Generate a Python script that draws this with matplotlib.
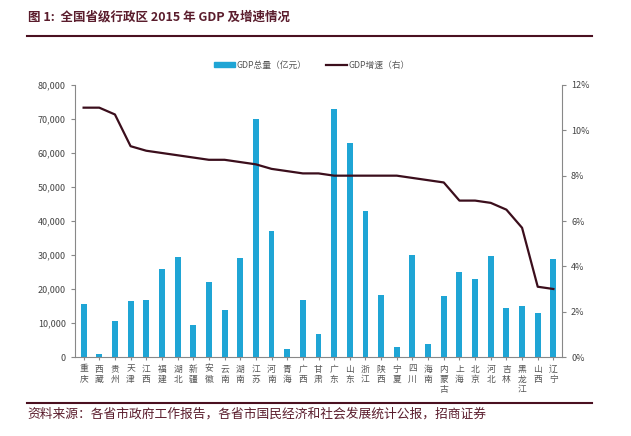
import matplotlib
matplotlib.use("Agg")
import matplotlib.pyplot as plt
from matplotlib.ticker import FuncFormatter, MultipleLocator
from matplotlib.lines import Line2D

plt.rcParams['font.family'] = ['Noto Sans CJK SC', 'DejaVu Sans']

provinces = ["重庆", "西藏", "贵州", "天津", "江西", "福建", "湖北", "新疆", "安徽", "云南",
             "湖南", "江苏", "河南", "青海", "广西", "甘肃", "广东", "山东", "浙江", "陕西",
             "宁夏", "四川", "海南", "内蒙古", "上海", "北京", "河北", "吉林", "黑龙江", "山西", "辽宁"]
gdp = [15717, 1026, 10503, 16538, 16724, 25980, 29550, 9325, 22006, 13718,
       29047, 70116, 37010, 2417, 16803, 6790, 72813, 63002, 42886, 18172,
       2912, 30103, 3703, 18033, 24965, 22969, 29806, 14274, 15084, 12803, 28743]
growth = [11.0, 11.0, 10.7, 9.3, 9.1, 9.0, 8.9, 8.8, 8.7, 8.7,
          8.6, 8.5, 8.3, 8.2, 8.1, 8.1, 8.0, 8.0, 8.0, 8.0,
          8.0, 7.9, 7.8, 7.7, 6.9, 6.9, 6.8, 6.5, 5.7, 3.1, 3.0]

title = "图 1:  全国省级行政区 2015 年 GDP 及增速情况"
source = "资料来源：各省市政府工作报告，各省市国民经济和社会发展统计公报，招商证券"
bar_label = "GDP总量（亿元）"
line_label = "GDP增速（右）"

W, H = 631, 436
fig = plt.figure(figsize=(W / 100, H / 100), dpi=100)
ax = fig.add_axes([75 / W, 1 - 357 / H, (562 - 75) / W, (357 - 85) / H])

bar_color = "#1fa5d5"
line_color = "#3b0e1c"
x = list(range(len(provinces)))
ax.bar(x, gdp, width=0.38, color=bar_color, zorder=2)
ax.set_ylim(0, 80000)
ax.set_xlim(-0.55, len(provinces) - 0.45)
ax.yaxis.set_major_locator(MultipleLocator(10000))
ax.yaxis.set_major_formatter(FuncFormatter(lambda v, p: f"{int(v):,}"))
ax.set_xticks(x)
ax.set_xticklabels(["\n".join(p) for p in provinces], fontsize=6.3, color="#555555",
                   linespacing=1.15)
ax.tick_params(axis='x', length=2.5, color="#888888", pad=3)
ax.tick_params(axis='y', labelsize=6.5, colors="#444444", length=3, color="#888888")
for s in ["top", "right"]:
    ax.spines[s].set_visible(False)
for s in ["left", "bottom"]:
    ax.spines[s].set_color("#888888")
    ax.spines[s].set_linewidth(0.8)

ax2 = ax.twinx()
ax2.plot(x, growth, color=line_color, lw=1.6, zorder=3)
ax2.set_ylim(0, 12)
ax2.yaxis.set_major_locator(MultipleLocator(2))
ax2.yaxis.set_major_formatter(FuncFormatter(lambda v, p: f"{int(v)}%"))
ax2.tick_params(axis='y', labelsize=6.5, colors="#444444", length=3, color="#888888")
for s in ["top", "left", "bottom"]:
    ax2.spines[s].set_visible(False)
ax2.spines["right"].set_color("#888888")
ax2.spines["right"].set_linewidth(0.8)

handles = [plt.Rectangle((0, 0), 1, 1, color=bar_color),
           Line2D([0], [0], color=line_color, lw=1.6)]
leg = fig.legend(handles, [bar_label, line_label], loc="center",
                 bbox_to_anchor=(312 / W, 1 - 65 / H),
                 ncol=2, frameon=False, fontsize=6.3, handlelength=2.4, handleheight=0.6,
                 columnspacing=2.2, handletextpad=0.2)
for t in leg.get_texts():
    t.set_color("#555555")

fig.text(28 / W, 1 - 17 / H, title, fontsize=9, fontweight="bold", color="#5a1c2c",
         va="center", ha="left")
fig.add_artist(Line2D([27 / W, 592 / W], [1 - 36 / H, 1 - 36 / H], color="#4a1020", lw=1.5))
fig.add_artist(Line2D([27 / W, 592 / W], [1 - 403 / H, 1 - 403 / H], color="#4a1020", lw=1.5))
fig.text(27 / W, 1 - 414 / H, source, fontsize=9.2, color="#5a1c2c", va="center", ha="left")

fig.savefig("out.png", dpi=100, facecolor="white")
